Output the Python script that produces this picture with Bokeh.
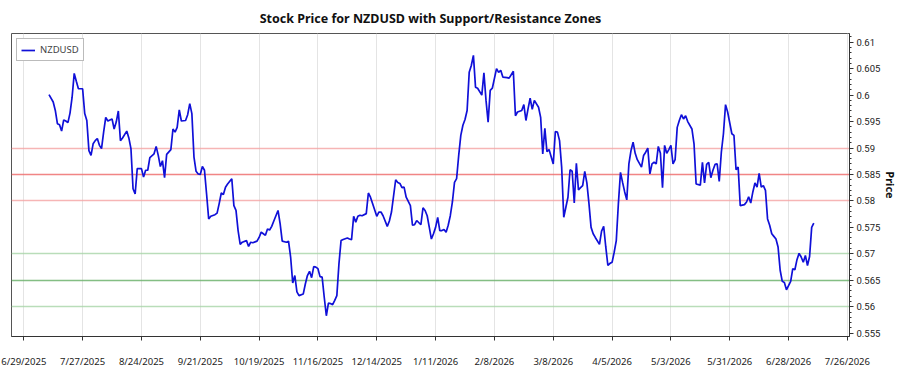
import pandas as pd
from bokeh.plotting import figure
from bokeh.models import Range1d, FixedTicker
from bokeh.embed import file_html
from bokeh.resources import INLINE

# NZDUSD closes, stored as days since start_date
start_date = "2025-06-29"
day_offsets = [
    12, 14, 15, 16, 17, 18, 19, 20, 21, 22, 23, 24, 25, 26, 28, 29, 30, 31, 32, 33,
    34, 35, 36, 37, 38, 39, 40, 41, 42, 43, 44, 45, 46, 47, 49, 50, 51, 52, 53, 54,
    56, 57, 58, 59, 60, 62, 63, 64, 65, 66, 67, 68, 70, 71, 72, 73, 74, 75, 77, 78,
    79, 80, 81, 82, 83, 84, 85, 86, 87, 88, 89, 91, 92, 93, 94, 95, 96, 97, 99, 100,
    101, 102, 103, 104, 106, 107, 108, 109, 111, 112, 113, 114, 115, 116, 117, 118, 119, 121, 122, 123,
    125, 126, 127, 128, 129, 130, 131, 133, 134, 135, 136, 137, 138, 139, 140, 141, 142, 143, 144, 145,
    146, 147, 148, 149, 150, 151, 152, 154, 155, 156, 157, 158, 159, 160, 161, 163, 164, 165, 166, 168,
    169, 170, 171, 173, 174, 175, 177, 178, 179, 180, 181, 182, 184, 185, 186, 187, 189, 190, 191, 192,
    193, 194, 195, 196, 197, 198, 199, 200, 201, 202, 203, 204, 205, 206, 207, 208, 209, 210, 211, 212,
    213, 214, 215, 216, 218, 219, 220, 221, 222, 223, 225, 226, 227, 228, 230, 231, 233, 234, 235, 237,
    238, 239, 240, 241, 242, 243, 245, 246, 247, 248, 249, 250, 252, 253, 254, 255, 256, 257, 258, 259,
    260, 261, 262, 263, 264, 265, 266, 267, 268, 269, 270, 271, 272, 274, 275, 276, 277, 278, 279, 280,
    281, 282, 283, 284, 285, 286, 287, 288, 289, 290, 291, 292, 293, 294, 295, 296, 297, 298, 299, 300,
    301, 302, 303, 304, 305, 306, 307, 308, 309, 310, 311, 312, 313, 314, 315, 316, 318, 319, 320, 322,
    323, 324, 325, 326, 327, 328, 329, 330, 331, 332, 333, 334, 335, 337, 338, 339, 340, 341, 343, 344,
    345, 346, 347, 348, 349, 350, 351, 352, 353, 354, 355, 356, 357, 358, 359, 360, 361, 362, 363, 364,
    365, 366, 367, 368, 369, 370, 371, 372, 373, 374, 375, 376,
]
prices = [
    0.6001, 0.5987, 0.5971, 0.5946, 0.5944, 0.5932, 0.5953, 0.5951, 0.5948, 0.5966,
    0.5996, 0.6041, 0.6026, 0.6012, 0.6012, 0.5965, 0.5952, 0.5895, 0.5886, 0.5908,
    0.5914, 0.5918, 0.5905, 0.5899, 0.5930, 0.5958, 0.5951, 0.5953, 0.5955, 0.5936,
    0.5949, 0.5970, 0.5914, 0.5919, 0.5932, 0.5919, 0.5899, 0.5823, 0.5813, 0.5861,
    0.5861, 0.5845, 0.5858, 0.5858, 0.5882, 0.5889, 0.5903, 0.5886, 0.5865, 0.5876,
    0.5844, 0.5888, 0.5897, 0.5936, 0.5930, 0.5939, 0.5972, 0.5951, 0.5952, 0.5963,
    0.5984, 0.5965, 0.5883, 0.5856, 0.5851, 0.5850, 0.5865, 0.5858, 0.5813, 0.5766,
    0.5771, 0.5774, 0.5777, 0.5795, 0.5815, 0.5812, 0.5826, 0.5832, 0.5842, 0.5791,
    0.5782, 0.5744, 0.5718, 0.5722, 0.5725, 0.5714, 0.5722, 0.5721, 0.5724, 0.5731,
    0.5741, 0.5738, 0.5735, 0.5747, 0.5745, 0.5752, 0.5762, 0.5782, 0.5757, 0.5724,
    0.5722, 0.5724, 0.5694, 0.5645, 0.5659, 0.5628, 0.5621, 0.5624, 0.5643, 0.5659,
    0.5667, 0.5655, 0.5676, 0.5675, 0.5672, 0.5657, 0.5656, 0.5618, 0.5583, 0.5607,
    0.5606, 0.5604, 0.5612, 0.5621, 0.5681, 0.5725, 0.5727, 0.5730, 0.5728, 0.5727,
    0.5771, 0.5760, 0.5771, 0.5773, 0.5772, 0.5776, 0.5815, 0.5807, 0.5795, 0.5771,
    0.5779, 0.5779, 0.5772, 0.5752, 0.5762, 0.5779, 0.5840, 0.5835, 0.5833, 0.5825,
    0.5826, 0.5807, 0.5791, 0.5754, 0.5755, 0.5763, 0.5755, 0.5787, 0.5782, 0.5772,
    0.5750, 0.5728, 0.5738, 0.5750, 0.5769, 0.5744, 0.5744, 0.5746, 0.5741, 0.5754,
    0.5772, 0.5798, 0.5835, 0.5842, 0.5886, 0.5924, 0.5943, 0.5954, 0.5971, 0.6043,
    0.6056, 0.6075, 0.6015, 0.6013, 0.6000, 0.6042, 0.5990, 0.5949, 0.6009, 0.6013,
    0.6050, 0.6043, 0.6047, 0.6034, 0.6033, 0.6032, 0.6045, 0.5961, 0.5968, 0.5971,
    0.5982, 0.5952, 0.5974, 0.5994, 0.5973, 0.5990, 0.5977, 0.5958, 0.5889, 0.5937,
    0.5893, 0.5897, 0.5870, 0.5931, 0.5930, 0.5914, 0.5864, 0.5769, 0.5788, 0.5807,
    0.5859, 0.5856, 0.5796, 0.5871, 0.5821, 0.5825, 0.5829, 0.5856, 0.5834, 0.5795,
    0.5750, 0.5738, 0.5731, 0.5718, 0.5743, 0.5752, 0.5713, 0.5678, 0.5682, 0.5684,
    0.5703, 0.5725, 0.5795, 0.5854, 0.5835, 0.5817, 0.5802, 0.5870, 0.5895, 0.5911,
    0.5890, 0.5878, 0.5871, 0.5864, 0.5886, 0.5892, 0.5900, 0.5851, 0.5870, 0.5873,
    0.5870, 0.5903, 0.5890, 0.5825, 0.5905, 0.5890, 0.5897, 0.5905, 0.5870, 0.5878,
    0.5939, 0.5952, 0.5963, 0.5955, 0.5961, 0.5950, 0.5936, 0.5908, 0.5832, 0.5830,
    0.5873, 0.5834, 0.5869, 0.5873, 0.5844, 0.5858, 0.5869, 0.5870, 0.5837, 0.5892,
    0.5927, 0.5982, 0.5968, 0.5927, 0.5924, 0.5859, 0.5864, 0.5791, 0.5793, 0.5798,
    0.5808, 0.5796, 0.5817, 0.5834, 0.5826, 0.5852, 0.5826, 0.5829, 0.5820, 0.5766,
    0.5754, 0.5738, 0.5733, 0.5728, 0.5713, 0.5669, 0.5648, 0.5646, 0.5632, 0.5640,
    0.5648, 0.5672, 0.5670, 0.5689, 0.5701, 0.5694, 0.5684, 0.5697, 0.5678, 0.5695,
    0.5750, 0.5758,
]

# Support / resistance zones: centre level plus upper and lower band edges
resistance_center = [0.585]
resistance_band = [0.58, 0.59]
support_center = [0.565]
support_band = [0.56, 0.57]

x_tick_labels = [
    "6/29/2025", "7/27/2025", "8/24/2025", "9/21/2025", "10/19/2025",
    "11/16/2025", "12/14/2025", "1/11/2026", "2/8/2026", "3/8/2026",
    "4/5/2026", "5/3/2026", "5/31/2026", "6/28/2026", "7/26/2026",
]
y_ticks = [0.555, 0.56, 0.565, 0.57, 0.575, 0.58, 0.585, 0.59, 0.595, 0.6, 0.605, 0.61]
y_tick_labels = ["0.555", "0.56", "0.565", "0.57", "0.575", "0.58", "0.585",
                 "0.59", "0.595", "0.6", "0.605", "0.61"]
y_minor_ticks = [round(0.554 + 0.001 * i, 3) for i in range(58)]

FONT = "Noto Sans"
TICK_FONT = "Roboto"

base = pd.Timestamp(start_date)
dates = base + pd.to_timedelta(day_offsets, unit="D")
day_ms = 86400000
base_ms = base.value // 10**6
x_tick_ms = (pd.to_datetime(x_tick_labels, format="%m/%d/%Y").asi8 // 10**6).tolist()

p = figure(
    width=900, height=375,
    x_axis_type="datetime", y_axis_location="right",
    x_range=Range1d(base_ms - 5.85 * day_ms, base_ms + 393.0 * day_ms),
    y_range=Range1d(0.55438, 0.61164),
    output_backend="svg", toolbar_location=None,
    frame_width=838, frame_height=303,
    min_border_left=11, min_border_top=33, min_border_bottom=39, min_border_right=0,
    background_fill_color="white", border_fill_color="white",
)

p.title.text = "Stock Price for NZDUSD with Support/Resistance Zones"
p.title.align = "center"
p.title.vertical_align = "middle"
p.title.text_font = FONT
p.title.text_font_size = "12.5px"
p.title.text_font_style = "bold"
p.title.text_color = "#111111"
p.title.standoff = 12

# zone lines
p.hspan(y=resistance_band, line_color="#f4a3a3", line_width=1.5, line_alpha=0.8)
p.hspan(y=resistance_center, line_color="#ee7070", line_width=1.6, line_alpha=0.85)
p.hspan(y=support_band, line_color="#a8d4a8", line_width=1.5, line_alpha=0.8)
p.hspan(y=support_center, line_color="#6fb36f", line_width=1.6, line_alpha=0.85)

p.line(dates, prices, line_color="#1010d8", line_width=1.7, legend_label="NZDUSD")

# axes
xa = p.xaxis[0]
xa.ticker = FixedTicker(ticks=x_tick_ms, minor_ticks=[])
xa.major_label_overrides = dict(zip(x_tick_ms, x_tick_labels))
xa.major_label_text_font = FONT
xa.major_label_text_font_size = "9.5px"
xa.major_label_text_color = "#222222"
xa.major_label_standoff = 14
xa.major_tick_out = 4
xa.major_tick_in = 0
xa.minor_tick_out = 0
xa.axis_line_color = "#333333"
xa.major_tick_line_color = "#333333"

ya = p.yaxis[0]
ya.ticker = FixedTicker(ticks=y_ticks, minor_ticks=y_minor_ticks)
ya.major_label_overrides = dict(zip(y_ticks, y_tick_labels))
ya.major_label_text_font = TICK_FONT
ya.major_label_text_font_size = "9.5px"
ya.major_label_text_color = "#222222"
ya.major_label_standoff = 3
ya.major_tick_out = 4
ya.major_tick_in = 0
ya.minor_tick_out = 2
ya.minor_tick_in = 0
ya.axis_line_color = "#333333"
ya.major_tick_line_color = "#333333"
ya.minor_tick_line_color = "#333333"
ya.axis_label = "Price"
ya.axis_label_text_font = FONT
ya.axis_label_text_font_size = "11px"
ya.axis_label_text_font_style = "bold"
ya.axis_label_text_color = "#111111"
ya.axis_label_standoff = 0

p.xgrid.grid_line_color = "#e4e4e4"
p.xgrid.grid_line_width = 1
p.ygrid.grid_line_color = None
p.outline_line_color = "#555555"
p.outline_line_width = 1

lg = p.legend[0]
lg.location = "top_left"
lg.margin = 5
lg.padding = 4
lg.spacing = 0
lg.glyph_width = 14
lg.glyph_height = 12
lg.label_height = 12
lg.label_standoff = 5
lg.label_text_font = FONT
lg.label_text_font_size = "9.5px"
lg.label_text_color = "#444444"
lg.border_line_color = "#777777"
lg.border_line_width = 1
lg.background_fill_color = "white"
lg.background_fill_alpha = 1.0

open("out.html", "w").write(file_html(p, INLINE))
